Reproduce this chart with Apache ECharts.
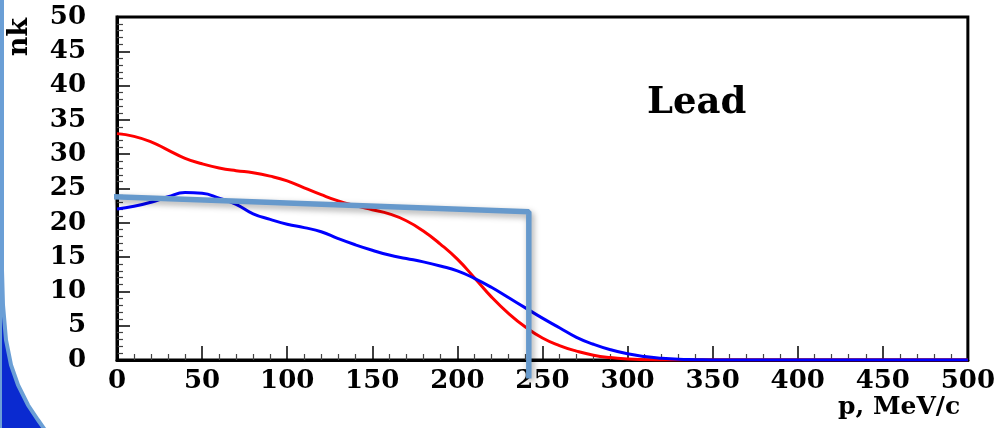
<!DOCTYPE html>
<html lang="en">
<head>
  <meta charset="UTF-8">
  <title>Lead nk vs p</title>
  <script src="https://cdn.jsdelivr.net/npm/echarts@6/dist/echarts.min.js"></script>
  <style>
    html, body { margin: 0; padding: 0; background: #fff; }
    #main { width: 998px; height: 428px; }
  </style>
</head>
<body>
  <div id="main"></div>
  <script>
    // p, MeV/c
    var pValues = [0, 10, 20, 30, 40, 50, 60, 70, 80, 90, 100, 110, 120, 130, 140, 150, 160, 170, 180, 190,
      200, 210, 220, 230, 240, 250, 260, 270, 280, 290, 300, 310, 320, 330, 340, 350, 400, 450, 500];
    // red curve
    var redValues = [33, 32.6, 31.8, 30.6, 29.4, 28.6, 28, 27.6, 27.3, 26.8, 26.1, 25.1, 24.1, 23.2, 22.5, 21.9, 21.3, 20.3, 18.8, 16.9,
      14.7, 12.0, 9.2, 6.8, 4.8, 3.2, 2.1, 1.3, 0.7, 0.35, 0.15, 0.05, 0, 0, 0, 0, 0, 0, 0];
    // blue curve
    var blueValues = [22, 22.4, 23, 23.8, 24.4, 24.3, 23.6, 22.7, 21.3, 20.5, 19.8, 19.3, 18.7, 17.7, 16.8, 16, 15.3, 14.8, 14.3, 13.7,
      13, 11.9, 10.6, 9.1, 7.6, 6.1, 4.7, 3.3, 2.3, 1.5, 0.9, 0.5, 0.25, 0.1, 0.05, 0, 0, 0, 0];
    // hand-drawn overlay (step)
    var stepX = [-2, 242, 242];
    var stepY = [23.8, 21.6, -2.7];

    function pairs(xs, ys) {
      return xs.map(function (x, i) { return [x, ys[i]]; });
    }

    var font = { fontFamily: 'DejaVu Serif', fontWeight: 'bold', fontSize: 26, color: '#000' };

    var myChart = echarts.init(document.getElementById('main'));
    var option = {
      animation: false,
      grid: {
        left: 117, right: 28, top: 17, bottom: 68,
        show: true, borderColor: '#000', borderWidth: 3
      },
      xAxis: {
        type: 'value', min: 0, max: 500, interval: 50,
        axisLine: { lineStyle: { color: '#000', width: 3 } },
        axisTick: { inside: true, length: 14, lineStyle: { color: '#000', width: 1.5 } },
        minorTick: { show: true, splitNumber: 5, length: 6, lineStyle: { color: '#444', width: 1.2 } },
        splitLine: { show: false },
        axisLabel: Object.assign({ margin: 8 }, font)
      },
      yAxis: {
        type: 'value', min: 0, max: 50, interval: 5,
        axisLine: { show: true, lineStyle: { color: '#000', width: 3 } },
        axisTick: { show: true, inside: true, length: 13, lineStyle: { color: '#000', width: 1.5 } },
        minorTick: { show: true, splitNumber: 5, length: 6, lineStyle: { color: '#444', width: 1.2 } },
        splitLine: { show: false },
        axisLabel: Object.assign({ margin: 31 }, font)
      },
      graphic: [
        {
          // slide border on the left
          type: 'polygon', silent: true, z: -1,
          shape: {
            points: [[0, 0], [2, 0], [2, 270], [3, 305], [6, 340], [11, 365], [18, 385], [28, 405], [38, 420], [45, 430], [0, 430]]
          },
          style: { fill: '#0a2ad0', stroke: '#6b9fd6', lineWidth: 4 }
        },
        {
          type: 'text', left: 647, top: 85,
          style: { text: 'Lead', font: 'bold 37px "DejaVu Serif"', fill: '#000' }
        },
        {
          type: 'text', left: 6, top: 18, rotation: Math.PI / 2,
          style: { text: 'nk', font: 'bold 27px "DejaVu Serif"', fill: '#000' }
        },
        {
          type: 'text', left: 838, top: 395,
          style: { text: 'p, MeV/c', font: 'bold 25px "DejaVu Serif"', fill: '#000' }
        }
      ],
      series: [
        {
          type: 'line', smooth: true, showSymbol: false,
          data: pairs(pValues, redValues),
          lineStyle: { color: '#ff0000', width: 3 }
        },
        {
          type: 'line', smooth: true, showSymbol: false,
          data: pairs(pValues, blueValues),
          lineStyle: { color: '#0000ff', width: 3 }
        },
        {
          type: 'line', showSymbol: false, clip: false, z: 5,
          data: pairs(stepX, stepY),
          lineStyle: {
            color: '#6699cc', width: 5.5,
            shadowColor: 'rgba(0,0,0,0.35)', shadowBlur: 6, shadowOffsetX: 2, shadowOffsetY: 3
          }
        }
      ]
    };
    myChart.setOption(option);
  </script>
</body>
</html>
